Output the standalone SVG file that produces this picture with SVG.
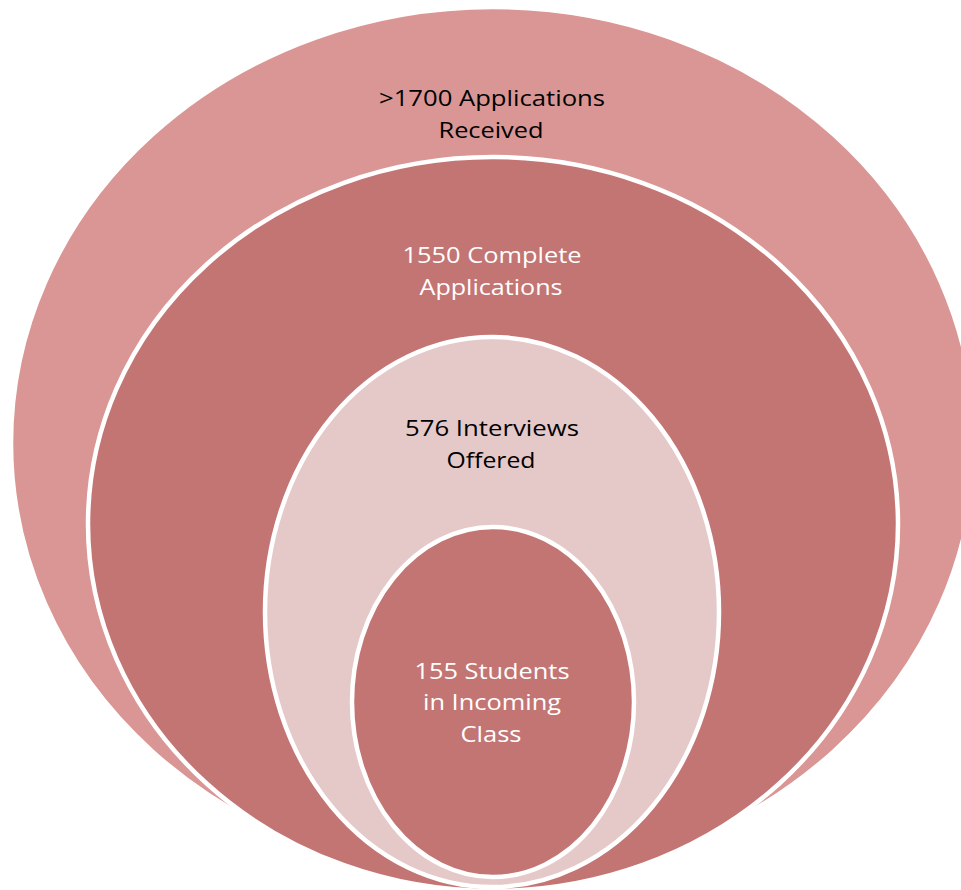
<svg xmlns="http://www.w3.org/2000/svg" width="961" height="890" viewBox="0 0 961 890">
<style>
.ring{stroke:#ffffff;stroke-width:4.5}
.outer{fill:#D99694}
.dark{fill:#C37573}
.light{fill:#E5C8C8}
.lbl{font-family:"Open Sans","Liberation Sans",sans-serif;font-size:22.5px;text-anchor:middle}
.blk{fill:#000000}
.wht{fill:#ffffff}
</style>
<rect width="961" height="890" fill="#ffffff"/>
<g id="node-applications-received">
<ellipse class="ring outer" cx="493" cy="443" rx="482" ry="436"/>
<text class="lbl blk" x="492" y="106" textLength="226" lengthAdjust="spacingAndGlyphs">&gt;1700 Applications</text>
<text class="lbl blk" x="491" y="138" textLength="105" lengthAdjust="spacingAndGlyphs">Received</text>
</g>
<g id="node-complete-applications">
<ellipse class="ring dark" cx="493" cy="524" rx="405" ry="367"/>
<text class="lbl wht" x="492" y="263" textLength="179" lengthAdjust="spacingAndGlyphs">1550 Complete</text>
<text class="lbl wht" x="491" y="295" textLength="143" lengthAdjust="spacingAndGlyphs">Applications</text>
</g>
<g id="node-interviews-offered">
<ellipse class="ring light" cx="492" cy="612" rx="227" ry="275"/>
<text class="lbl blk" x="492" y="436" textLength="174" lengthAdjust="spacingAndGlyphs">576 Interviews</text>
<text class="lbl blk" x="491" y="468" textLength="89" lengthAdjust="spacingAndGlyphs">Offered</text>
</g>
<g id="node-incoming-class">
<ellipse class="ring dark" cx="493" cy="702" rx="141" ry="175"/>
<text class="lbl wht" x="492" y="679" textLength="155" lengthAdjust="spacingAndGlyphs">155 Students</text>
<text class="lbl wht" x="492" y="710" textLength="138" lengthAdjust="spacingAndGlyphs">in Incoming</text>
<text class="lbl wht" x="491" y="742" textLength="61" lengthAdjust="spacingAndGlyphs">Class</text>
</g>
</svg>
